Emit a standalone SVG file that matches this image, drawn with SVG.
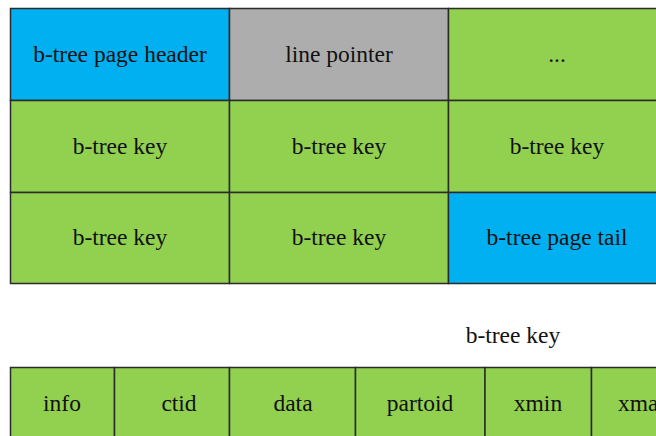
<svg xmlns="http://www.w3.org/2000/svg" width="656" height="436" viewBox="0 0 656 436">
<style>
rect{stroke:#2b2b2b;stroke-width:1.5}
.b{fill:#00B0F0}.g{fill:#92D050}.gr{fill:#ADADAD}
text{font-family:'Liberation Serif';font-size:23.5px;fill:#111;text-anchor:middle}
</style>
<rect width="656" height="436" fill="#fff" style="stroke:none"/>
<g id="page-header"><rect class="b" x="10.5" y="8.5" width="219" height="92"/><text x="120" y="62">b-tree page header</text></g>
<g id="line-pointer"><rect class="gr" x="229.5" y="8.5" width="219" height="92"/><text x="339" y="62">line pointer</text></g>
<g id="ellipsis"><rect class="g" x="448.5" y="8.5" width="219" height="92"/><text x="557" y="62">...</text></g>
<g id="key-1"><rect class="g" x="10.5" y="100.5" width="219" height="92"/><text x="120" y="154">b-tree key</text></g>
<g id="key-2"><rect class="g" x="229.5" y="100.5" width="219" height="92"/><text x="339" y="154">b-tree key</text></g>
<g id="key-3"><rect class="g" x="448.5" y="100.5" width="219" height="92"/><text x="557" y="154">b-tree key</text></g>
<g id="key-4"><rect class="g" x="10.5" y="192.5" width="219" height="91"/><text x="120" y="245">b-tree key</text></g>
<g id="key-5"><rect class="g" x="229.5" y="192.5" width="219" height="91"/><text x="339" y="245">b-tree key</text></g>
<g id="page-tail"><rect class="b" x="448.5" y="192.5" width="219" height="91"/><text x="557" y="245">b-tree page tail</text></g>
<g id="key-label"><text x="513" y="343">b-tree key</text></g>
<g id="info"><rect class="g" x="10.5" y="367.5" width="104" height="80"/><text x="62" y="411">info</text></g>
<g id="ctid"><rect class="g" x="114.5" y="367.5" width="115" height="80"/><text x="179" y="411">ctid</text></g>
<g id="data"><rect class="g" x="229.5" y="367.5" width="126" height="80"/><text x="293" y="411">data</text></g>
<g id="partoid"><rect class="g" x="355.5" y="367.5" width="129.5" height="80"/><text x="420" y="411">partoid</text></g>
<g id="xmin"><rect class="g" x="485" y="367.5" width="106.5" height="80"/><text x="538" y="411">xmin</text></g>
<g id="xmax"><rect class="g" x="591.5" y="367.5" width="110" height="80"/><text x="644" y="411">xmax</text></g>
<g id="connectors"></g>
</svg>
